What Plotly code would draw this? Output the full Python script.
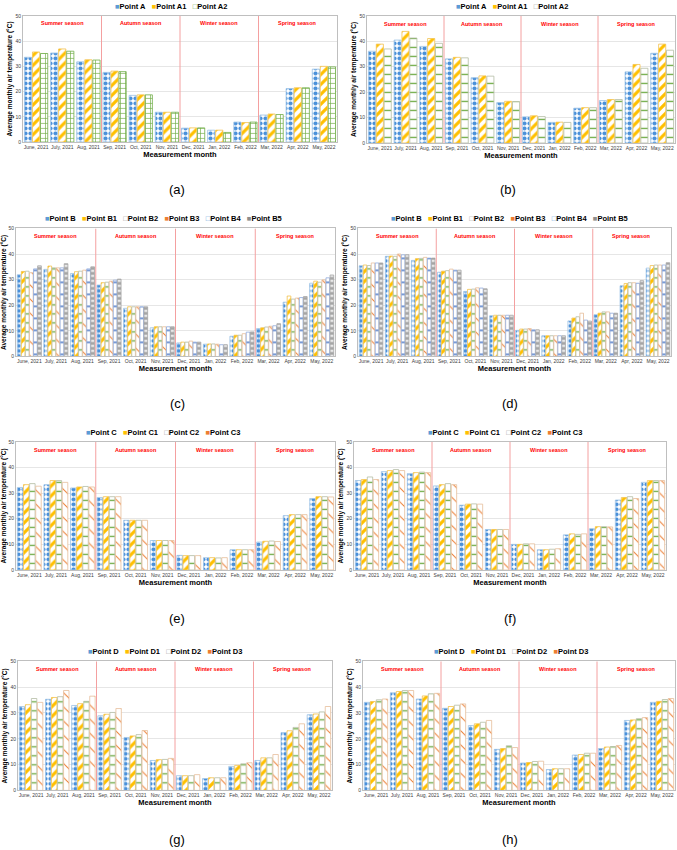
import plotly.graph_objects as go

W, H = 677, 850

months = ["June, 2021", "July, 2021", "Aug, 2021", "Sep, 2021", "Oct, 2021", "Nov, 2021",
          "Dec, 2021", "Jan, 2022", "Feb, 2022", "Mar, 2022", "Apr, 2022", "May, 2022"]
seasons = ["Summer season", "Autumn season", "Winter season", "Spring season"]
season_centers = ["July, 2021", "Oct, 2021", "Jan, 2022", "Apr, 2022"]
panel_labels = ["(a)", "(b)", "(c)", "(d)", "(e)", "(f)", "(g)", "(h)"]

# ---- panel (a)
a_names = ["Point A", "Point A1", "Point A2"]
a_A  = [33.6, 35.3, 31.8, 27.6, 18.5, 11.8, 5.5, 4.7, 7.9, 10.7, 21.2, 28.9]
a_A1 = [35.7, 36.9, 32.6, 28.1, 18.7, 11.8, 5.6, 4.7, 7.7, 11.1, 21.5, 30.0]
a_A2 = [35.1, 36.0, 32.5, 27.9, 18.7, 11.8, 5.6, 3.8, 7.9, 10.9, 21.5, 29.8]
# ---- panel (b)
b_names = ["Point A", "Point A1", "Point A2"]
b_A  = [36.1, 40.5, 38.0, 33.1, 25.7, 15.9, 10.3, 8.1, 13.7, 16.7, 28.0, 35.3]
b_A1 = [38.9, 43.9, 41.1, 33.7, 26.4, 16.4, 10.7, 8.2, 13.9, 17.1, 30.9, 38.9]
b_A2 = [37.0, 41.3, 39.2, 33.5, 26.3, 16.3, 10.4, 8.1, 13.9, 17.1, 29.4, 36.5]
# ---- panel (c)
c_names = ["Point B", "Point B1", "Point B2", "Point B3", "Point B4", "Point B5"]
c_B  = [31.9, 34.0, 32.4, 27.9, 18.8, 11.2, 5.3, 4.8, 7.9, 10.9, 21.2, 28.6]
c_B1 = [33.2, 35.3, 33.1, 28.8, 19.4, 11.6, 5.6, 4.9, 8.3, 11.2, 23.6, 29.4]
c_B2 = [33.3, 34.6, 33.3, 29.0, 19.4, 11.6, 5.6, 4.9, 8.3, 11.5, 22.4, 29.0]
c_B3 = [32.7, 34.6, 33.7, 29.4, 19.4, 11.6, 6.0, 4.8, 8.9, 11.8, 22.8, 29.9]
c_B4 = [34.2, 34.6, 34.2, 29.8, 19.4, 11.6, 5.6, 4.6, 9.5, 12.0, 23.0, 30.7]
c_B5 = [35.4, 36.2, 35.0, 30.2, 19.4, 11.6, 5.6, 4.6, 9.6, 12.8, 23.4, 31.8]
# ---- panel (d)
d_names = ["Point B", "Point B1", "Point B2", "Point B3", "Point B4", "Point B5"]
d_B  = [35.4, 39.1, 37.5, 32.9, 25.4, 15.9, 10.2, 8.1, 13.9, 16.3, 27.6, 34.5]
d_B1 = [35.7, 39.2, 38.2, 33.3, 26.2, 16.1, 10.7, 8.1, 15.0, 16.9, 28.5, 35.5]
d_B2 = [35.5, 39.1, 38.3, 33.5, 26.3, 16.1, 10.7, 8.1, 15.5, 17.4, 28.8, 35.7]
d_B3 = [36.5, 40.0, 38.7, 34.1, 26.8, 16.1, 10.9, 8.1, 16.9, 17.4, 28.8, 35.7]
d_B4 = [36.5, 39.7, 38.4, 33.7, 26.7, 16.1, 10.4, 8.1, 14.2, 16.9, 28.6, 35.7]
d_B5 = [36.5, 39.7, 38.4, 33.7, 26.4, 16.1, 10.4, 8.1, 13.8, 16.9, 29.6, 36.6]
# ---- panel (e)
e_names = ["Point C", "Point C1", "Point C2", "Point C3"]
e_C  = [32.2, 33.3, 32.0, 28.3, 19.4, 11.5, 5.7, 4.8, 7.9, 10.9, 21.2, 27.9]
e_C1 = [33.3, 34.9, 32.4, 28.6, 19.4, 11.5, 5.6, 4.8, 7.9, 11.2, 21.6, 28.6]
e_C2 = [33.7, 34.9, 32.6, 28.6, 19.4, 11.5, 5.6, 4.7, 7.9, 11.3, 21.6, 28.6]
e_C3 = [32.7, 34.2, 32.4, 28.6, 19.4, 11.5, 5.6, 4.8, 7.9, 11.1, 21.6, 28.5]
# ---- panel (f)
f_names = ["Point C", "Point C1", "Point C2", "Point C3"]
f_C  = [34.9, 38.4, 37.6, 32.8, 25.3, 15.8, 10.0, 7.9, 13.7, 16.1, 27.3, 34.2]
f_C1 = [35.3, 38.8, 38.0, 33.3, 25.7, 15.8, 10.0, 7.9, 14.1, 16.9, 28.3, 34.9]
f_C2 = [36.3, 39.2, 38.2, 33.7, 25.8, 15.8, 10.2, 8.1, 13.9, 16.9, 28.6, 34.9]
f_C3 = [35.3, 38.8, 38.0, 33.3, 25.7, 15.8, 10.2, 8.3, 14.1, 16.8, 27.9, 34.9]
# ---- panel (g)
g_names = ["Point D", "Point D1", "Point D2", "Point D3"]
g_D  = [32.5, 35.3, 32.9, 28.9, 20.5, 11.6, 5.7, 4.6, 9.3, 11.6, 22.4, 29.3]
g_D1 = [33.2, 36.0, 33.6, 29.5, 21.1, 11.9, 5.7, 4.9, 9.7, 12.6, 23.1, 29.6]
g_D2 = [35.6, 36.3, 34.5, 30.2, 21.6, 12.0, 5.7, 4.9, 10.3, 12.6, 24.4, 30.4]
g_D3 = [34.1, 38.7, 36.5, 31.7, 23.2, 12.4, 6.1, 4.9, 10.7, 13.9, 25.8, 32.5]
# ---- panel (h)
h_names = ["Point D", "Point D1", "Point D2", "Point D3"]
h_D  = [34.1, 37.8, 35.4, 31.8, 25.1, 15.9, 10.6, 8.1, 13.7, 16.2, 27.1, 34.1]
h_D1 = [34.4, 38.3, 36.6, 32.5, 25.8, 16.2, 10.8, 8.4, 13.9, 16.8, 27.3, 34.5]
h_D2 = [35.1, 38.7, 37.4, 33.0, 26.4, 17.3, 11.2, 8.4, 14.4, 17.0, 27.8, 35.2]
h_D3 = [35.4, 38.7, 37.6, 33.5, 27.1, 16.6, 11.3, 8.4, 14.4, 17.4, 28.2, 35.6]

# ---------------- styles ----------------
STY = {
    "blue":     dict(bg="white",   fg="#4A90D9", shape=".",  size=5,  sol=0.55, line="#9DC3E6", leg="■", legc="#5B9BD5"),
    "yellow":   dict(bg="white",   fg="#FFC000", shape="/",  size=7,  sol=0.45, line="#F2C14E", leg="■", legc="#FFC000"),
    "grid":     dict(bg="white",   fg="#70AD47", shape="+",  size=5,  sol=0.25, line="#70AD47", leg="□", legc="#70AD47"),
    "dashg":    dict(bg="white",   fg="#70AD47", shape="-",  size=9,  sol=0.15, line="#B4BDA5", leg="□", legc="#9A9A9A"),
    "orange":   dict(bg="white",   fg="#ED7D31", shape="\\", size=10, sol=0.1,  line="#E6BE9A", leg="■", legc="#ED7D31"),
    "bluedash": dict(bg="white",   fg="#4472C4", shape="-",  size=12, sol=0.12, line="#8FAADC", leg="□", legc="#5B9BD5"),
    "gray":     dict(bg="#A5A5A5", fg="white",   shape="-",  size=5,  sol=0.35, line="#A5A5A5", leg="■", legc="#8C8C8C"),
}

panels = [
    dict(names=a_names, data=[a_A, a_A1, a_A2], sty=["blue", "yellow", "grid"],
         dom=(23, 337, 13, 140), leg=(171, 4), lab=(177, 188)),
    dict(names=b_names, data=[b_A, b_A1, b_A2], sty=["blue", "yellow", "dashg"],
         dom=(367, 675, 13, 141), leg=(512, 4), lab=(508, 188)),
    dict(names=c_names, data=[c_B, c_B1, c_B2, c_B3, c_B4, c_B5],
         sty=["blue", "yellow", "dashg", "orange", "bluedash", "gray"],
         dom=(16, 335, 227, 356), leg=(163, 217), lab=(177, 403)),
    dict(names=d_names, data=[d_B, d_B1, d_B2, d_B3, d_B4, d_B5],
         sty=["blue", "yellow", "dashg", "orange", "bluedash", "gray"],
         dom=(358, 671, 227, 356), leg=(510, 217), lab=(510, 403)),
    dict(names=e_names, data=[e_C, e_C1, e_C2, e_C3], sty=["blue", "yellow", "dashg", "orange"],
         dom=(16, 335, 442, 571), leg=(163, 433), lab=(177, 620)),
    dict(names=f_names, data=[f_C, f_C1, f_C2, f_C3], sty=["blue", "yellow", "dashg", "orange"],
         dom=(354, 666, 442, 571), leg=(505, 433), lab=(510, 620)),
    dict(names=g_names, data=[g_D, g_D1, g_D2, g_D3], sty=["blue", "yellow", "dashg", "orange"],
         dom=(18, 332, 663, 793), leg=(165, 653), lab=(177, 842)),
    dict(names=h_names, data=[h_D, h_D1, h_D2, h_D3], sty=["blue", "yellow", "dashg", "orange"],
         dom=(363, 675, 663, 793), leg=(511, 653), lab=(510, 842)),
]

FONT = "Arial, Liberation Sans, sans-serif"


def px(x):
    return x / W


def py(y):
    return 1 - y / H


fig = go.Figure()
annotations = []
shapes = []
layout = {}

for i, p in enumerate(panels, start=1):
    sfx = "" if i == 1 else str(i)
    xa, ya = f"x{sfx}", f"y{sfx}"
    for name, vals, sk in zip(p["names"], p["data"], p["sty"]):
        s = STY[sk]
        fig.add_trace(go.Bar(
            x=months, y=vals, name=name, xaxis=xa, yaxis=ya, showlegend=False,
            marker=dict(color=s["bg"],
                        line=dict(color=s["line"], width=0.8),
                        pattern=dict(shape=s["shape"], fgcolor=s["fg"], bgcolor=s["bg"],
                                     size=s["size"], solidity=s["sol"], fillmode="replace")),
        ))
    x0, x1, y0, y1 = p["dom"]
    layout[f"xaxis{sfx}"] = dict(
        domain=[px(x0), px(x1)], anchor=ya, type="category", tickangle=0,
        tickfont=dict(size=5, color="#404040", family=FONT),
        showline=True, linecolor="#BFBFBF", linewidth=1, mirror=True,
        ticks="", showgrid=False,
        title=dict(text="Measurement month", standoff=2,
                   font=dict(size=7.5, family=FONT, color="#000000", weight="bold")),
    )
    layout[f"yaxis{sfx}"] = dict(
        domain=[py(y1), py(y0)], anchor=xa, range=[0, 50], dtick=10,
        tickfont=dict(size=5, color="#404040", family=FONT),
        showline=True, linecolor="#BFBFBF", linewidth=1, mirror=True,
        showgrid=True, gridcolor="#E6E6E6", gridwidth=0.6, zeroline=False, ticks="",
        title=dict(text="Average monthly air temperature (°C)", standoff=2,
                   font=dict(size=6.5, family=FONT, color="#000000", weight="bold")),
    )
    # season dividers
    for xv in [2.5, 5.5, 8.5]:
        shapes.append(dict(type="line", xref=xa, yref=ya, x0=xv, x1=xv, y0=0, y1=50,
                           line=dict(color="#F4A0A0", width=1)))
    # season labels
    for sname, sc in zip(seasons, season_centers):
        annotations.append(dict(x=sc, y=47, xref=xa, yref=ya, text=sname, showarrow=False,
                                font=dict(size=5.5, color="#FF0000", family=FONT, weight="bold")))
    # legend row
    items = []
    for name, sk in zip(p["names"], p["sty"]):
        s = STY[sk]
        items.append(f'<span style="color:{s["legc"]}">{s["leg"]}</span>{name}')
    annotations.append(dict(x=px(p["leg"][0]), y=py(p["leg"][1]), xref="paper", yref="paper",
                            text="\u00a0\u00a0\u00a0".join(items), showarrow=False,
                            xanchor="center", yanchor="middle",
                            font=dict(size=7.5, color="#000000", family=FONT, weight="bold")))
    # panel label
    annotations.append(dict(x=px(p["lab"][0]), y=py(p["lab"][1]), xref="paper", yref="paper",
                            text=panel_labels[i - 1], showarrow=False,
                            xanchor="center", yanchor="middle",
                            font=dict(size=13, color="#000000", family="Liberation Sans, Arial")))

fig.update_layout(
    width=W, height=H, margin=dict(l=0, r=0, t=0, b=0),
    paper_bgcolor="white", plot_bgcolor="white",
    barmode="group", bargap=0.08, bargroupgap=0.1,
    annotations=annotations, shapes=shapes, showlegend=False,
    **layout,
)

fig.write_html("out.html")
